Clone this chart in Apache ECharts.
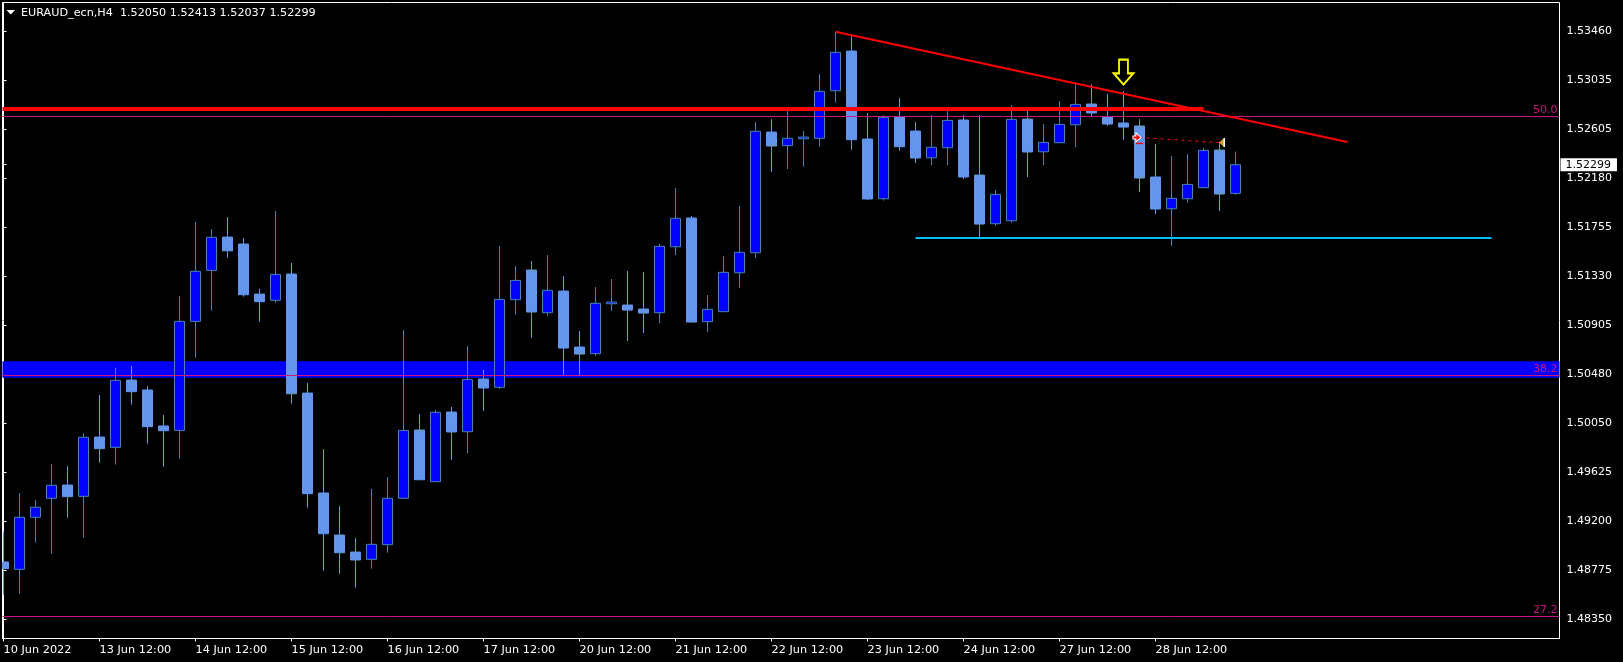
<!DOCTYPE html>
<html>
<head>
<meta charset="utf-8">
<style>html,body{margin:0;padding:0;background:#000}#c{width:1623px;height:662px}</style>
<script src="https://cdn.jsdelivr.net/npm/echarts@6/dist/echarts.min.js"></script>
</head>
<body>
<div id="c"></div>
<script>
const opens = [1.48848,1.48784,1.49236,1.49401,1.49516,1.49418,1.49933,1.49844,1.50428,1.50342,
1.50029,1.49991,1.50938,1.51381,1.51670,1.51610,1.51175,1.51121,1.51349,1.50315,
1.49447,1.49082,1.48934,1.48871,1.48998,1.49401,1.49994,1.49545,1.50150,1.49979,
1.50437,1.50365,1.51126,1.51384,1.51013,1.51201,1.50715,1.50657,1.51091,1.51080,
1.51045,1.51013,1.51586,1.51836,1.50935,1.51022,1.51360,1.51534,1.52582,1.52464,
1.52524,1.52528,1.52941,1.53286,1.52522,1.52003,1.52713,1.52591,1.52359,1.52446,
1.52687,1.52209,1.51786,1.51812,1.52695,1.52411,1.52490,1.52646,1.52826,1.52713,
1.52661,1.52635,1.52192,1.51916,1.52003,1.52099,1.52426,1.52050];
const closes = [1.48790,1.49236,1.49323,1.49514,1.49415,1.49931,1.49832,1.50426,1.50327,1.50023,
1.49988,1.50938,1.51373,1.51668,1.51551,1.51169,1.51109,1.51346,1.50309,1.49441,
1.49093,1.48928,1.48865,1.49001,1.49401,1.49991,1.49562,1.50148,1.49977,1.50434,
1.50359,1.51129,1.51294,1.51019,1.51208,1.50706,1.50654,1.51095,1.51106,1.51036,
1.51010,1.51590,1.51833,1.50932,1.51042,1.51364,1.51538,1.52589,1.52461,1.52528,
1.52539,1.52936,1.53275,1.52516,1.52001,1.52710,1.52455,1.52357,1.52450,1.52684,
1.52192,1.51783,1.52041,1.52693,1.52409,1.52493,1.52649,1.52823,1.52748,1.52652,
1.52626,1.52183,1.51914,1.52007,1.52128,1.52424,1.52044,1.52299];
const lows = [1.48561,1.48572,1.49015,1.48920,1.49232,1.49059,1.49710,1.49693,1.50214,1.49875,
1.49675,1.49745,1.50622,1.51030,1.51491,1.51152,1.50935,1.51100,1.50223,1.49319,
1.48772,1.48746,1.48624,1.48789,1.48928,1.49398,1.49560,1.49542,1.49733,1.49794,
1.50159,1.50350,1.50996,1.50793,1.50984,1.50472,1.50472,1.50639,1.51028,1.50767,
1.50837,1.50923,1.51514,1.50930,1.50845,1.51019,1.51227,1.51488,1.52235,1.52261,
1.52281,1.52455,1.52837,1.52429,1.51992,1.51986,1.52420,1.52313,1.52296,1.52296,
1.52174,1.51668,1.51769,1.51795,1.52192,1.52296,1.52487,1.52452,1.52721,1.52635,
1.52513,1.52061,1.51870,1.51592,1.51968,1.52096,1.51896,1.52037];
const highs = [1.49111,1.49447,1.49386,1.49699,1.49681,1.49965,1.50298,1.50533,1.50550,1.50376,
1.50124,1.51158,1.51801,1.51740,1.51844,1.51662,1.51219,1.51896,1.51445,1.50402,
1.49829,1.49334,1.49056,1.49482,1.49586,1.50863,1.50133,1.50168,1.50194,1.50724,
1.50515,1.51592,1.51419,1.51462,1.51514,1.51332,1.50854,1.51236,1.51306,1.51375,
1.51366,1.51610,1.52096,1.51853,1.51167,1.51505,1.51940,1.52669,1.52695,1.52765,
1.52591,1.53086,1.53454,1.53416,1.52748,1.52730,1.52878,1.52669,1.52730,1.52765,
1.52730,1.52730,1.52079,1.52817,1.52765,1.52652,1.52852,1.52999,1.52997,1.52913,
1.52939,1.52695,1.52478,1.52374,1.52391,1.52443,1.52498,1.52413];

const priceTicks = [1.53460,1.53035,1.52605,1.52180,1.51755,1.51330,1.50905,1.50480,1.50050,1.49625,1.49200,1.48775,1.48350];
const lastPrice = 1.52299;
const timeLabels = ['10 Jun 2022','13 Jun 12:00','14 Jun 12:00','15 Jun 12:00','16 Jun 12:00','17 Jun 12:00','20 Jun 12:00','21 Jun 12:00','22 Jun 12:00','23 Jun 12:00','24 Jun 12:00','27 Jun 12:00','28 Jun 12:00'];
const barsPerLabel = 6;

const fibLevels = [['50.0',1.52719],['38.2',1.50469],['27.2',1.48376]];
const blueZone = [1.50448,1.50591];
const resistance = [[-0.0625,1.52782],[75,1.52782]];
const trendline = [[52,1.53454],[84,1.52496]];
const supportLine = [[57,1.51662],[93,1.51662]];
const tradeLine = [[71,1.52536],[76,1.52490]];
const downArrow = [[70,1.53104]];
const entryArrow = [[70.84,1.52536]];
const entryDash = [[71,1.52484]];
const exitMark = [[76.13,1.52492]];
const exitEdge = [[76.3,1.52492]];

const FONT = '"DejaVu Sans"';
const candles = opens.map((o,i)=>[i,o,closes[i],lows[i],highs[i]]);
const lineSeries = (data,color,width,extra)=>Object.assign({
  type:'line',data,symbol:'none',silent:true,z:6,
  lineStyle:{color,width,cap:'butt'}
},extra||{});
const markerSeries = (data,symbol,size,fill,border,bw)=>({
  type:'scatter',data,symbol,symbolSize:size,silent:true,z:8,
  itemStyle:{color:fill,borderColor:border,borderWidth:bw,opacity:1}
});

const chart = echarts.init(document.getElementById('c'),null,{width:1623,height:662});
chart.setOption({
  animation:false,
  backgroundColor:'#000000',
  title:{text:'EURAUD_ecn,H4  1.52050 1.52413 1.52037 1.52299',left:21,top:8,padding:0,
    textStyle:{color:'#ffffff',fontFamily:FONT,fontSize:11.2,fontWeight:'normal'}},
  graphic:[
    {type:'polygon',shape:{points:[[6.5,10],[15,10],[10.75,14.5]]},style:{fill:'#ffffff'},z:20},
    {type:'rect',shape:{x:0,y:0,width:2,height:662},style:{fill:'#000000'},z:20}
  ],
  grid:{left:2.5,top:2.5,width:1557,height:636,show:true,borderColor:'#ffffff',borderWidth:1,backgroundColor:'#000000'},
  xAxis:{type:'value',min:-0.0625,max:97.25,
    axisLine:{show:true,lineStyle:{color:'#ffffff',width:1}},
    splitLine:{show:false},
    axisTick:{show:true,length:3,lineStyle:{color:'#ffffff'},customValues:timeLabels.map((_,i)=>i*barsPerLabel)},
    axisLabel:{color:'#ffffff',fontFamily:FONT,fontSize:11.3,margin:5,align:'left',padding:[1,0,0,0],
      customValues:timeLabels.map((_,i)=>i*barsPerLabel),
      formatter:v=>timeLabels[Math.round(v/barsPerLabel)]}
  },
  yAxis:{type:'value',position:'right',min:1.48183,max:1.53708,
    axisLine:{show:true,lineStyle:{color:'#ffffff',width:1}},
    splitLine:{show:false},
    axisTick:{show:true,length:3,lineStyle:{color:'#ffffff'},customValues:priceTicks.concat([lastPrice])},
    axisLabel:{color:'#ffffff',fontFamily:FONT,fontSize:11,margin:7,verticalAlign:'middle',padding:[5,0,0,0],
      customValues:priceTicks,formatter:v=>v.toFixed(5)}
  },
  series:[
    {type:'candlestick',data:candles,barWidth:10,silent:true,z:2,large:false,
      itemStyle:{color:'#0000ff',color0:'#6495ed',borderColor:'#4682b4',borderColor0:'#6495ed',borderWidth:1},
      markArea:{silent:true,itemStyle:{color:'#0000ff',opacity:1},
        data:[[{yAxis:blueZone[0]},{yAxis:blueZone[1]}]]},
      markLine:{silent:true,symbol:'none',animation:false,precision:5,
        data:fibLevels.map(f=>({yAxis:f[1],
          lineStyle:{color:'#c71585',width:1,type:'solid'},
          label:{show:true,position:'insideEndTop',formatter:f[0],color:'#c71585',fontFamily:FONT,fontSize:11,distance:[2,1]}
        })).concat([{yAxis:lastPrice,
          lineStyle:{color:'rgba(0,0,0,0)',width:1},
          label:{show:true,position:'end',distance:1,formatter:lastPrice.toFixed(5),color:'#000000',backgroundColor:'#ffffff',
            fontFamily:FONT,fontSize:11,padding:[2,6,0,5]}
        }])
      }
    },
    lineSeries(resistance,'#ff0000',4),
    lineSeries(trendline,'#ff0000',2),
    lineSeries(supportLine,'#00bfff',2),
    lineSeries(tradeLine,'#ff0000',1,{lineStyle:{color:'#ff0000',width:1,type:[3,4]}}),
    markerSeries(downArrow,'path://M6 0L16 0L16 15L22 15L11 27L0 15L6 15Z',[19.5,25],'rgba(0,0,0,0)','#ffff00',2),
    markerSeries(entryArrow,'path://M0 3L3 3L3 0L8 4.5L3 9L3 6L0 6Z',[8,9],'#ff0000','#ffffff',1),
    markerSeries(entryDash,'rect',[7,1.5],'#ff0000','#ff0000',0),
    markerSeries(exitMark,'path://M5 0L0 4.5L5 9Z',[5,9],'#e0a020','#e0a020',0),
    markerSeries(exitEdge,'rect',[1.5,9],'#ffffff','#ffffff',0)
  ]
});
</script>
</body>
</html>
